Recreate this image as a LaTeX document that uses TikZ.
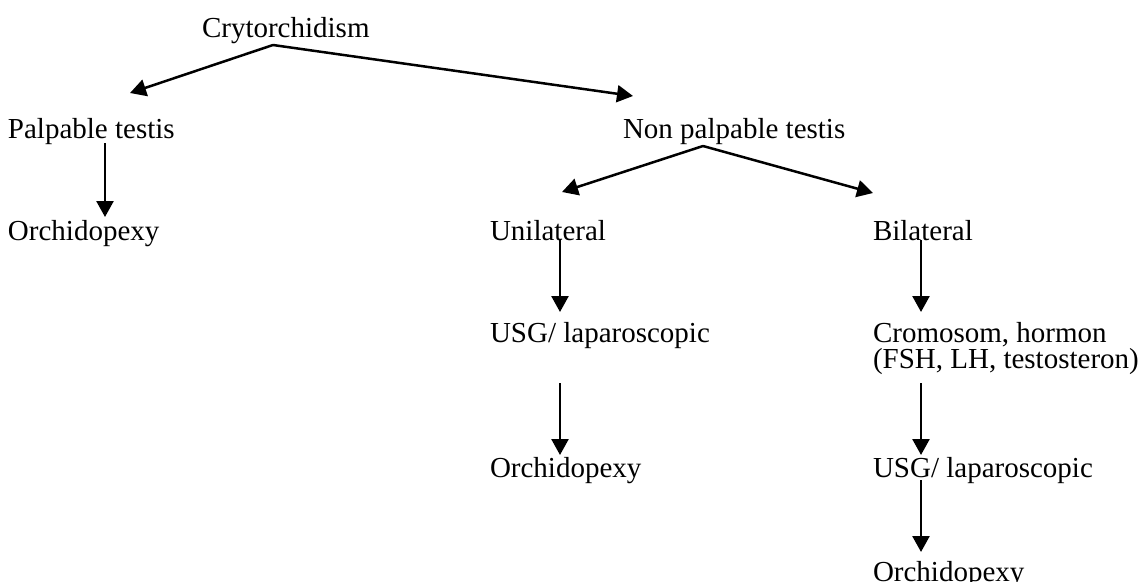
\documentclass[tikz,border=0pt]{standalone}
\usepackage{fontspec}
\setmainfont{Liberation Serif}
\usetikzlibrary{arrows.meta}
\tikzset{
  lbl/.style={anchor=base west, inner sep=0pt, outer sep=0pt, align=left,
    font=\fontsize{29}{26}\selectfont},
  arr/.style={line width=2.5pt, -{Triangle[length=16pt,width=17pt]}}
}
\begin{document}
\begin{tikzpicture}[x=1pt,y=-1pt]
\useasboundingbox (0,0) rectangle (1143,581);
% text nodes
\node[lbl] (cry)   at (202,37)  {Crytorchidism};
\node[lbl] (palp)  at (8,138)   {Palpable testis};
\node[lbl] (orchA) at (8,240)   {Orchidopexy};
\node[lbl] (nonp)  at (623,138) {Non palpable testis};
\node[lbl] (uni)   at (490,240) {Unilateral};
\node[lbl] (bil)   at (873,240) {Bilateral};
\node[lbl] (usgA)  at (490,342) {USG/ laparoscopic};
\node[lbl] (crom)  at (873,368) {Cromosom, hormon\\(FSH, LH, testosteron)};
\node[lbl] (orchB) at (490,477) {Orchidopexy};
\node[lbl] (usgB)  at (873,477) {USG/ laparoscopic};
\node[lbl] (orchC) at (873,581) {Orchidopexy};
% connector end points
\coordinate (cryO)  at (273,45);
\coordinate (palpI) at (130,93);
\coordinate (nonpI) at (633,96);
\coordinate (palpO) at (105,143);
\coordinate (orchAI) at (105,217);
\coordinate (nonpO) at (703,146);
\coordinate (uniI)  at (562,192);
\coordinate (bilI)  at (873,193);
\coordinate (uniO)  at (560,240);
\coordinate (usgAI) at (560,312);
\coordinate (bilO)  at (921,240);
\coordinate (cromI) at (921,312);
\coordinate (usgAO) at (560,383);
\coordinate (orchBI) at (560,455);
\coordinate (cromO) at (921,383);
\coordinate (usgBI) at (921,455);
\coordinate (usgBO) at (921,480);
\coordinate (orchCI) at (921,552);
% connectors
\draw[arr] (cryO) -- (palpI);
\draw[arr] (cryO) -- (nonpI);
\draw[arr] (palpO) -- (orchAI);
\draw[arr] (nonpO) -- (uniI);
\draw[arr] (nonpO) -- (bilI);
\draw[arr] (uniO) -- (usgAI);
\draw[arr] (bilO) -- (cromI);
\draw[arr] (usgAO) -- (orchBI);
\draw[arr] (cromO) -- (usgBI);
\draw[arr] (usgBO) -- (orchCI);
\end{tikzpicture}
\end{document}
